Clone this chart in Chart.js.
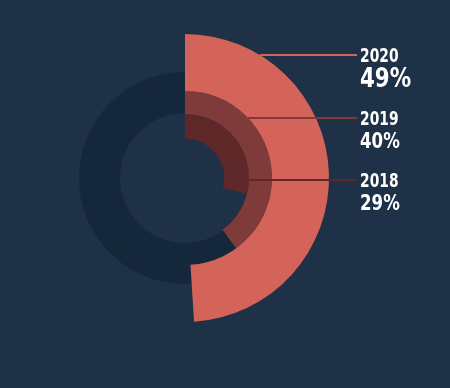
<!DOCTYPE html>
<html>
<head>
<meta charset="utf-8">
<script src="https://cdn.jsdelivr.net/npm/chart.js@4.4.0/dist/chart.umd.min.js"></script>
<style>
  html, body { margin: 0; padding: 0; background: #1e3147; }
  .wrap { position: absolute; left: 0; top: 0; width: 450px; height: 388px; }
  canvas { position: absolute; left: 0; top: 0; }
</style>
</head>
<body>
<div class="wrap"><canvas id="track"></canvas></div>
<div class="wrap"><canvas id="rings"></canvas></div>
<script>
const years = ['2020', '2019', '2018'];
const shares = [49, 40, 29];
const ringColors = ['#d4635a', '#7f3b3a', '#5e2828'];
const ringWeights = [57, 23, 25];

const pad = { left: 0, top: 0, right: 80, bottom: 32 };
const labelFont = '"DejaVu Sans Condensed", "Liberation Sans Narrow", sans-serif';

// background track ring
new Chart(document.getElementById('track'), {
    type: 'doughnut',
    data: {
        datasets: [{
            data: [100],
            backgroundColor: '#15273a',
            borderWidth: 0
        }]
    },
    options: {
        responsive: true,
        maintainAspectRatio: false,
        animation: false,
        layout: { padding: pad },
        radius: 106,
        cutout: '61.3%',
        plugins: { legend: { display: false }, tooltip: { enabled: false } }
    }
});

const calloutY = [55, 118, 180];

// narrow text, squeezed horizontally to mimic the condensed face
function narrowText(ctx, txt, x, y, squeeze) {
    ctx.save();
    ctx.translate(x, y);
    ctx.scale(squeeze, 1);
    ctx.fillText(txt, 0, 0);
    ctx.restore();
}

const callouts = {
    id: 'callouts',
    afterDraw(chart) {
        const ctx = chart.ctx;
        const textX = 360;
        ctx.save();
        chart.data.datasets.forEach((ds, i) => {
            const arc = chart.getDatasetMeta(i).data[0];
            const cx = arc.x, cy = arc.y, r = arc.outerRadius;
            const y = calloutY[i];
            const dy = y - cy;
            const x0 = cx + Math.sqrt(Math.max(r * r - dy * dy, 0));
            ctx.strokeStyle = ringColors[i];
            ctx.lineWidth = 2;
            ctx.beginPath();
            ctx.moveTo(x0, y);
            ctx.lineTo(textX - 3, y);
            ctx.stroke();

            ctx.fillStyle = '#ffffff';
            ctx.textBaseline = 'alphabetic';
            ctx.textAlign = 'left';
            ctx.font = 'bold 19px ' + labelFont;
            narrowText(ctx, years[i], textX, y + 7, 0.81);
            ctx.font = 'bold ' + (i === 0 ? 27 : 21) + 'px ' + labelFont;
            narrowText(ctx, shares[i] + '%', textX, y + (i === 0 ? 32 : 30), 0.88);
        });
        ctx.restore();
    }
};

new Chart(document.getElementById('rings'), {
    type: 'doughnut',
    data: {
        labels: ['value', 'rest'],
        datasets: years.map((y, i) => ({
            label: y,
            data: [shares[i], 100 - shares[i]],
            backgroundColor: [ringColors[i], 'rgba(0,0,0,0)'],
            borderWidth: 0,
            weight: ringWeights[i]
        }))
    },
    options: {
        responsive: true,
        maintainAspectRatio: false,
        animation: false,
        layout: { padding: pad },
        radius: 144,
        cutout: '27.1%',
        plugins: { legend: { display: false }, tooltip: { enabled: false } }
    },
    plugins: [callouts]
});
</script>
</body>
</html>
